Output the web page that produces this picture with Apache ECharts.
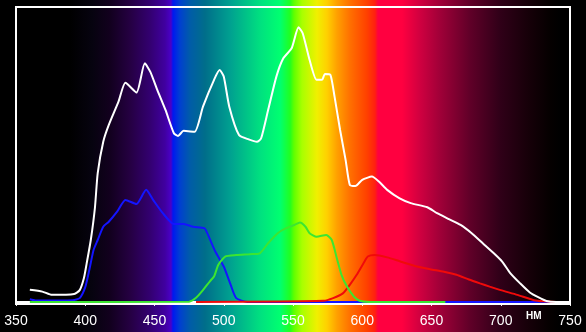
<!DOCTYPE html>
<html>
<head>
    <meta charset="utf-8">
    <title></title>
    <style type="text/css">
        html,
        body {
            height: 100%;
        }

        body {
            margin: 0;
            padding: 0;
            background: #000;
        }

        #main {
            width: 586px;
            height: 332px;
        }
    </style>
</head>

<body>
    <div id="main"></div>
    <script src="https://cdn.jsdelivr.net/npm/echarts@6/dist/echarts.min.js"></script>
    <script type="text/javascript">
        // x axis ticks (nm)
        var xTicks = [350, 400, 450, 500, 550, 600, 650, 700, 750];
        var unitLabel = 'НМ';

        // white (total) spectrum
        var whiteNm = [360, 369, 376, 392, 396, 399, 401, 404, 407, 409, 413, 417, 424, 429, 437, 443, 447, 452, 458, 464, 467, 471, 479, 485, 493, 497, 500, 504, 511, 518, 524, 527, 532, 538, 543, 549, 554, 557, 562, 567, 571, 573, 577, 580, 584, 588, 591, 595, 600, 607, 612, 618, 627, 635, 647, 654, 663, 671, 679, 687, 695, 701, 707, 714, 721, 727, 733, 740, 750];
        var whiteVal = [4.1, 3.5, 2.4, 2.7, 4, 8, 13, 21, 32, 43.7, 54.3, 60, 67.9, 74.3, 71, 80.9, 78, 71.9, 65, 57.2, 56.3, 58, 57.7, 66.2, 75.3, 78.6, 76.4, 66.2, 56.6, 55.1, 54.3, 55.5, 65, 76.4, 82.6, 86, 93.1, 91.1, 82, 75.3, 75.3, 77.3, 77, 69.6, 58.3, 48.1, 39.7, 39.3, 41.4, 42.5, 40.8, 38, 35.1, 33.5, 32.1, 30.1, 28, 26.1, 23.3, 19.9, 16.5, 13.7, 9.7, 6.3, 3.2, 1.6, 0.3, 0, 0];

        // blue channel
        var blueNm = [360, 364, 391, 396, 400, 403, 406, 409, 413, 417, 423, 429, 437, 444, 449, 456, 464, 471, 478, 486, 488, 494, 500, 505, 509, 517, 740];
        var blueVal = [0.9, 0.5, 0.6, 1.3, 5, 11, 17.6, 21, 25.5, 27.2, 30.6, 34.6, 33.2, 38, 34.6, 30.1, 26.4, 26.4, 25.5, 25, 23.4, 17, 12, 5.8, 1.3, 0, 0];

        // green channel
        var greenNm = [360, 475, 480, 485, 490, 493, 496, 501, 509, 519, 526, 532, 539, 545, 551, 555, 559, 562, 567, 574, 578, 582, 585, 589, 594, 598, 605, 660];
        var greenVal = [0, 0.1, 1.4, 4, 7, 8.6, 12.5, 15.4, 15.9, 16.2, 16.5, 19.9, 23.3, 25, 26.1, 26.9, 25.5, 23.3, 22.1, 22.7, 21, 14.2, 9.2, 5.2, 1.8, 0.4, 0, 0];

        // red channel
        var redNm = [480, 572, 579, 586, 591, 596, 601, 604, 609, 618, 627, 638, 649, 659, 668, 677, 685, 692, 700, 712, 724, 731, 740];
        var redVal = [0, 0.4, 1.3, 2.9, 5.8, 9.2, 13.2, 15.4, 15.9, 15.1, 13.8, 12.2, 11.1, 10.2, 9.2, 7.6, 6.3, 5.2, 4, 2.4, 0.6, 0.2, 0];

        function pairs(xs, ys) {
            var out = [];
            for (var i = 0; i < xs.length; i++) out.push([xs[i], ys[i]]);
            return out;
        }

        // spectrum backdrop, stops given in canvas pixels
        var W = 586;
        var bgStops = [
            [0, '#000000'], [70, '#000000'], [92, '#06030f'], [110, '#12001e'],
            [130, '#250042'], [150, '#330070'], [165, '#4000a0'], [171, '#4a00c8'],
            [173, '#0018f0'], [180, '#0040d0'], [190, '#005ca8'], [205, '#006e8a'],
            [230, '#00a090'], [260, '#00e080'], [280, '#00ff70'], [290, '#20ff20'],
            [294, '#60ff00'], [302, '#a8ff00'], [317, '#f0f000'], [327, '#ffd000'],
            [337, '#ffa000'], [350, '#ff7000'], [367, '#ff4000'], [375, '#ff2010'],
            [378, '#ff0040'], [402, '#ff0040'], [420, '#d00040'], [440, '#a00038'],
            [470, '#600028'], [500, '#300018'], [530, '#150008'], [550, '#050000'],
            [560, '#000000'], [586, '#000000']
        ];
        var bg = new echarts.graphic.LinearGradient(0, 0, 1, 0, bgStops.map(function (s) {
            return { offset: s[0] / W, color: s[1] };
        }));

        var myChart = echarts.init(document.getElementById('main'));

        function lineSeries(name, data, color) {
            return {
                name: name,
                type: 'line',
                data: data,
                showSymbol: false,
                smooth: 0.2,
                lineStyle: { color: color, width: 2 },
                animation: false
            };
        }

        myChart.setOption({
            backgroundColor: bg,
            grid: {
                show: true,
                left: 16,
                right: 16,
                top: 7,
                bottom: 28,
                borderColor: '#ffffff',
                borderWidth: 2,
                backgroundColor: 'transparent'
            },
            xAxis: {
                type: 'value',
                min: xTicks[0],
                max: xTicks[xTicks.length - 1],
                interval: 50,
                axisLine: { lineStyle: { color: '#ffffff', width: 2 } },
                axisTick: { show: true, length: 4, lineStyle: { color: '#ffffff', width: 1 } },
                axisLabel: {
                    color: '#ffffff',
                    fontSize: 14,
                    fontFamily: '"Liberation Sans Narrow", "Liberation Sans", Arial, sans-serif',
                    margin: 10,
                    showMinLabel: true,
                    showMaxLabel: true
                },
                splitLine: { show: false }
            },
            yAxis: {
                type: 'value',
                min: -0.7,
                max: 100,
                show: false
            },
            graphic: [{
                type: 'text',
                left: 526,
                top: 311,
                style: {
                    text: unitLabel,
                    fill: '#ffffff',
                    font: 'bold 10px "Liberation Sans", Arial, sans-serif'
                }
            }],
            series: [
                lineSeries('blue', pairs(blueNm, blueVal), '#1414ff'),
                lineSeries('red', pairs(redNm, redVal), '#f00a0a'),
                lineSeries('green', pairs(greenNm, greenVal), '#3ce630'),
                lineSeries('white', pairs(whiteNm, whiteVal), '#ffffff')
            ],
            animation: false
        });
    </script>
</body>
</html>
